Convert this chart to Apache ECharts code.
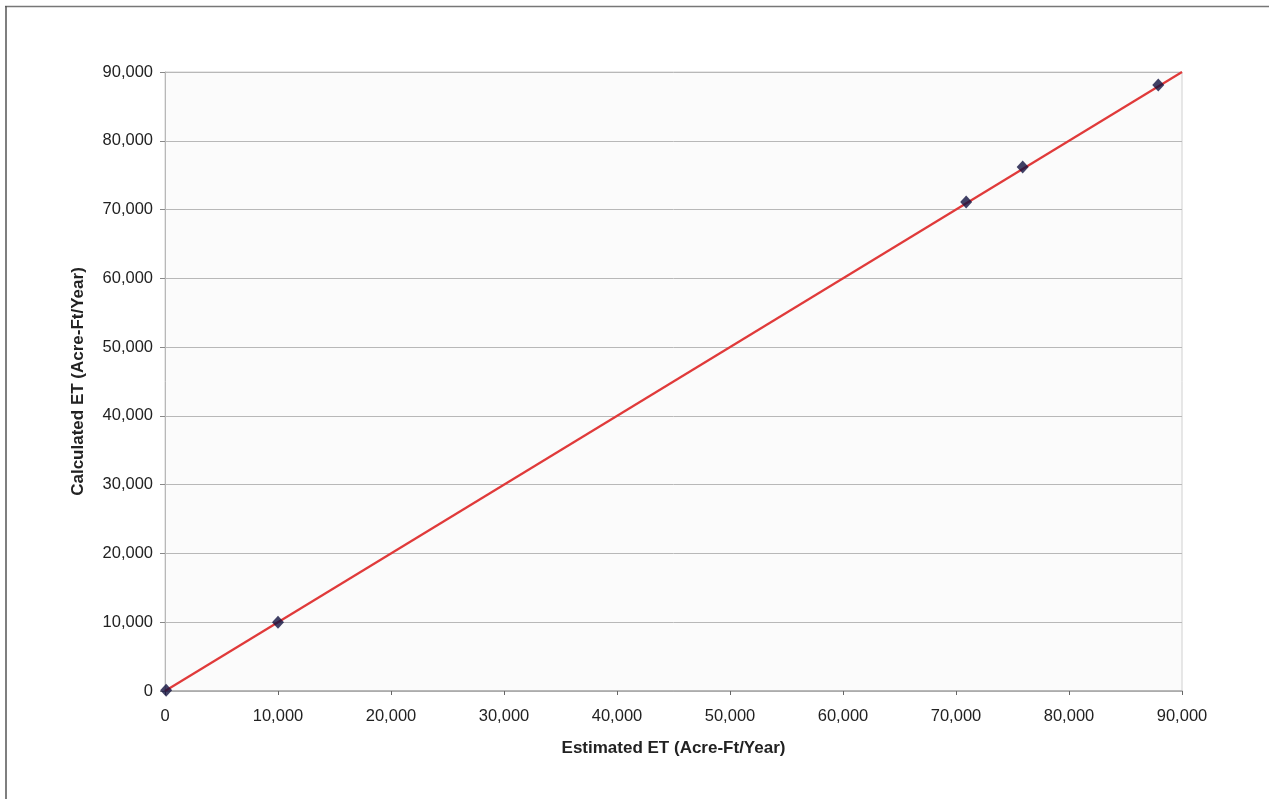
<!DOCTYPE html>
<html>
<head>
<meta charset="utf-8">
<script src="https://cdn.jsdelivr.net/npm/echarts@6/dist/echarts.min.js"></script>
<style>
  html, body { margin: 0; padding: 0; background: #ffffff; }
  #chart { width: 1269px; height: 799px; }
</style>
</head>
<body>
<div id="chart"></div>
<script>
// Estimated vs calculated evapotranspiration (acre-ft/year)
const estimatedET = [100, 10000, 70900, 75900, 87900];
const calculatedET = [100, 10000, 71100, 76200, 88100];
// 1:1 reference line endpoints
const lineX = [0, 90000];
const lineY = [0, 90000];
const axisTicks = [0, 10000, 20000, 30000, 40000, 50000, 60000, 70000, 80000, 90000];

const fmt = v => v.toLocaleString('en-US');
const font = '"Liberation Sans", Arial, sans-serif';

const chart = echarts.init(document.getElementById('chart'), null, { renderer: 'canvas' });

chart.setOption({
  animation: false,
  backgroundColor: '#ffffff',
  graphic: [
    { type: 'line', shape: { x1: 5, y1: 6.5, x2: 1269, y2: 6.5 }, style: { stroke: '#777', lineWidth: 1.5 } },
    { type: 'line', shape: { x1: 6, y1: 6, x2: 6, y2: 799 }, style: { stroke: '#555', lineWidth: 1.5 } }
  ],
  grid: {
    left: 165, top: 72, width: 1017, height: 619,
    show: true, backgroundColor: '#fbfbfb', borderColor: '#d0d0d0', borderWidth: 1
  },
  xAxis: {
    type: 'value', min: axisTicks[0], max: axisTicks[axisTicks.length - 1], interval: 10000,
    name: 'Estimated ET (Acre-Ft/Year)', nameLocation: 'middle', nameGap: 49,
    nameTextStyle: { fontFamily: font, fontSize: 17, fontWeight: 'bold', color: '#222' },
    axisLine: { show: true, onZero: false, lineStyle: { color: '#a8a8a8', width: 1.5 } },
    axisTick: { show: true, length: 4, lineStyle: { color: '#666' } },
    axisLabel: { formatter: fmt, fontFamily: font, fontSize: 16.5, color: '#222', margin: 17 },
    splitLine: { show: false }
  },
  yAxis: {
    type: 'value', min: axisTicks[0], max: axisTicks[axisTicks.length - 1], interval: 10000,
    name: 'Calculated ET (Acre-Ft/Year)', nameLocation: 'middle', nameGap: 78, nameRotate: 90,
    nameTextStyle: { fontFamily: font, fontSize: 17, fontWeight: 'bold', color: '#222' },
    axisLine: { show: true, onZero: false, lineStyle: { color: '#b8b8b8', width: 1 } },
    axisTick: { show: true, length: 5, lineStyle: { color: '#888' } },
    axisLabel: { formatter: fmt, fontFamily: font, fontSize: 16.5, color: '#222', margin: 12 },
    splitLine: { show: true, lineStyle: { color: '#b8b8b8', width: 1 } }
  },
  series: [
    {
      type: 'line',
      data: lineX.map((x, i) => [x, lineY[i]]),
      symbol: 'none',
      lineStyle: { color: '#e03a3a', width: 2.2 },
      z: 2
    },
    {
      type: 'scatter',
      data: estimatedET.map((x, i) => [x, calculatedET[i]]),
      symbol: 'diamond',
      symbolSize: [12, 13],
      itemStyle: { color: '#121240' },
      z: 3
    }
  ]
});
</script>
</body>
</html>
